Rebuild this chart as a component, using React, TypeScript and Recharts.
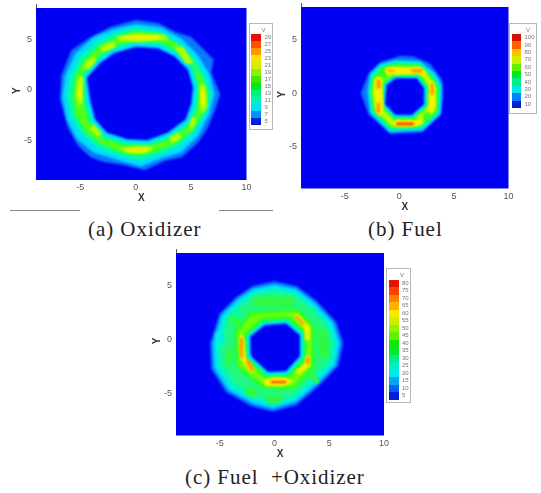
import { CartesianGrid, Scatter, ScatterChart, XAxis, YAxis } from 'recharts'

type Pt = [number, number]
type Layer = { color: string; points: Pt[] }

const X_TICKS = [-5, 0, 5, 10]
const Y_TICKS = [-5, 0, 5]

const BG = '#0000f2'
const C_EDGE = '#0a78ff'
const C_CYAN = '#00dcff'
const C_SEA = '#00ffa0'
const C_GREEN = '#30ff20'
const C_LIME = '#b8ff00'
const C_YELLOW = '#f8f000'
const C_ORANGE = '#ff9000'
const C_RED = '#ff3000'

// legend levels, top to bottom
const LEVELS_A = ['29', '27', '25', '23', '21', '19', '17', '15', '13', '11', '9', '7', '5']
const LEVELS_B = ['100', '90', '80', '70', '60', '50', '40', '30', '20', '10']
const LEVELS_C = ['80', '75', '70', '65', '60', '55', '50', '45', '40', '35', '30', '25', '20', '15', '10', '5']
const SWATCH_A = ['#e81000', '#ff5000', '#ff9800', '#ffe000', '#d0f000', '#90f000', '#40e800', '#00e820', '#00f080', '#00f0c0', '#00e0f0', '#0090ff', '#0020d8']
const SWATCH_B = ['#d81000', '#ff6000', '#ffc000', '#c8f000', '#60f000', '#00e820', '#00f090', '#00e8e0', '#0080ff', '#0020d0']
const SWATCH_C = ['#e81000', '#ff4000', '#ff8000', '#ffb000', '#ffe800', '#c8f000', '#98f000', '#60f000', '#10e800', '#00e830', '#00f080', '#00f0c0', '#00e8f0', '#00a8f0', '#0060ff', '#0020d8']

// (a) oxidizer contours
const A_OUTER: Pt[] = [[0, 6.8], [2, 6.5], [3.6, 5.6], [5, 5.1], [6.2, 3.8], [7, 2.9], [6.8, 1.6], [7.6, -0.5], [7.1, -2.2], [6.4, -4], [5.6, -5.3], [4.2, -6.7], [2.6, -7.1], [0.8, -8], [-1.1, -7.5], [-2.9, -7.2], [-4.1, -6.7], [-5.2, -5.6], [-6.1, -3.8], [-6.8, -1.1], [-6.7, 1.3], [-5.8, 3.8], [-4.2, 5], [-2.3, 6.1]]
const A_CYAN: Pt[] = [[0, 6.4], [2.3, 6.05], [4.1, 4.95], [5.6, 3.35], [6.65, 1.45], [7.1, -0.5], [6.65, -2.4], [5.6, -4.65], [4.1, -6.25], [2.3, -6.85], [0.45, -7.65], [-1.65, -7], [-3.8, -6.25], [-5.3, -4.95], [-6.2, -3.05], [-6.6, -0.8], [-6.35, 1.3], [-5.45, 3.5], [-3.8, 5.1], [-2, 5.9]]
const A_SEA: Pt[] = [[0, 6.05], [2.1, 5.65], [3.8, 4.65], [5.3, 3.05], [6.25, 1.3], [6.8, -0.5], [6.35, -2.4], [5.3, -4.3], [3.8, -5.75], [2, -6.55], [0.3, -7.05], [-1.65, -6.55], [-3.5, -5.75], [-4.85, -4.45], [-5.75, -2.9], [-6.2, -0.8], [-5.95, 1.1], [-5, 3.2], [-3.5, 4.65], [-1.8, 5.55]]
const A_GREEN: Pt[] = [[0, 5.65], [2, 5.45], [3.65, 4.45], [5, 2.9], [5.9, 1.3], [6.5, -0.5], [6.05, -2.4], [5, -4.15], [3.5, -5.45], [1.8, -6.15], [0.15, -6.55], [-1.65, -6.15], [-3.35, -5.25], [-4.55, -4.15], [-5.35, -2.7], [-5.65, -0.8], [-5.45, 1.1], [-4.7, 2.7], [-3.35, 4.15], [-1.65, 5.1]]
const A_HOLE_SEA: Pt[] = [[0, 4.8], [2.2, 4.65], [4, 3.65], [5.25, 2.25], [5.75, 0.2], [5.6, -1.75], [5.05, -3.4], [3.3, -4.85], [1.15, -5.65], [-0.85, -5.55], [-3, -4.85], [-4.15, -3.35], [-4.7, -1.3], [-4.75, 1.5], [-3.6, 3], [-2.25, 4.15]]
const A_HOLE_CYAN: Pt[] = [[0, 4.5], [2.1, 4.35], [3.8, 3.4], [5, 2.1], [5.45, 0.2], [5.3, -1.6], [4.8, -3.2], [3.1, -4.6], [1.1, -5.35], [-0.8, -5.25], [-2.8, -4.6], [-3.9, -3.2], [-4.4, -1.2], [-4.6, 1.3], [-3.4, 2.8], [-2.1, 3.85]]
const A_HOLE: Pt[] = [[0, 4.15], [2, 4], [3.5, 3.2], [4.7, 1.9], [5.15, 0.15], [5, -1.45], [4.5, -3], [2.9, -4.3], [1.05, -5.05], [-0.75, -4.95], [-2.6, -4.3], [-3.65, -3], [-4.1, -1.1], [-4.4, 1.1], [-3.2, 2.55], [-2, 3.5]]
const A_HOT_TOP: Pt[] = [[-1.65, 5.2], [-0.15, 5.45], [2.6, 5.35], [2.9, 4.95], [0.45, 4.65], [-1.5, 4.8]]
const A_HOT_UL: Pt[] = [[-3.2, 4.15], [-2, 4.7], [-1.8, 4.15], [-2.9, 3.65]]
const A_HOT_UL2: Pt[] = [[-4.7, 2.25], [-3.95, 3.2], [-3.5, 2.9], [-4.25, 1.9]]
const A_HOT_UR: Pt[] = [[3.5, 4.15], [4.25, 4.15], [5.15, 2.55], [4.55, 2.55]]
const A_HOT_R: Pt[] = [[5.8, 0.5], [6.25, 0.3], [6.45, -1.75], [6.05, -2.4], [5.75, -1.45]]
const A_HOT_L: Pt[] = [[-5.15, 1.3], [-4.75, 1.1], [-4.85, -1.45], [-5.15, -1.6], [-5.35, -0.5]]
const A_HOT_LR: Pt[] = [[4.85, -3.5], [5.15, -2.7], [5.45, -3.2], [5, -4.15]]
const A_HOT_BR: Pt[] = [[3.05, -4.8], [3.8, -4.3], [4.1, -4.8], [3.35, -5.35]]
const A_HOT_B: Pt[] = [[-1.35, -5.9], [0.15, -5.65], [1.65, -5.75], [1.05, -6.3], [-0.75, -6.3]]
const A_HOT_LL: Pt[] = [[-4.15, -3.85], [-3.8, -3.5], [-3.05, -4.45], [-3.5, -4.65]]
const A_CORE_TOP: Pt[] = [[-0.9, 5.2], [2, 5.2], [2, 4.95], [-0.9, 5]]
const A_CORE_R: Pt[] = [[5.95, -0.2], [6.15, -0.2], [6.2, -1.5], [6, -1.5]]
const A_CORE_L: Pt[] = [[-5.15, 0.1], [-4.9, 0.1], [-4.95, -1], [-5.15, -1]]
const A_CORE_B: Pt[] = [[-0.8, -6], [1, -5.95], [0.9, -6.2], [-0.7, -6.2]]

// (b) fuel contours
const B_OUTER: Pt[] = [[0.1, 3.4], [1.3, 3.35], [2.85, 2.65], [3.9, 1.15], [4, -0.5], [3.75, -2.1], [2.1, -3.7], [-0.85, -3.85], [-2.8, -2.05], [-3.5, -0.05], [-2.8, 1.75], [-1.75, 2.8]]
const B_CYAN: Pt[] = [[-1.75, 2.65], [-0.35, 3], [1.9, 2.9], [3.3, 1.75], [3.85, 0.7], [3.75, -2], [2.1, -3.55], [-0.85, -3.7], [-2.65, -1.9], [-2.9, 0.1], [-2.65, 1.75]]
const B_SEA: Pt[] = [[-1.6, 2.5], [-0.35, 2.85], [1.9, 2.75], [3.1, 1.6], [3.7, 0.6], [3.6, -1.9], [2, -3.35], [-0.8, -3.5], [-2.5, -1.8], [-2.75, 0.1], [-2.5, 1.6]]
const B_GREEN: Pt[] = [[-1.45, 2.35], [-0.3, 2.65], [1.8, 2.55], [2.95, 1.45], [3.5, 0.5], [3.45, -1.8], [1.9, -3.15], [-0.75, -3.3], [-2.35, -1.7], [-2.6, 0.1], [-2.35, 1.5]]
const B_LIME: Pt[] = [[-1.2, 2.3], [1.9, 2.4], [2.8, 1.4], [3.35, 0.5], [3.3, -1.7], [1.8, -3], [-0.7, -3.15], [-2.2, -1.6], [-2.45, 0.1], [-2.2, 1.4], [-1.5, 1.4]]
const B_HOLE_GREEN: Pt[] = [[-0.5, 1.75], [1.8, 1.75], [2.7, 0.55], [2.7, -1.25], [1.3, -2.55], [-0.5, -2.55], [-1.75, -1.25], [-1.6, 0.85]]
const B_HOLE_SEA: Pt[] = [[-0.45, 1.6], [1.7, 1.6], [2.55, 0.5], [2.55, -1.2], [1.25, -2.4], [-0.45, -2.4], [-1.6, -1.2], [-1.45, 0.8]]
const B_HOLE_CYAN: Pt[] = [[-0.4, 1.45], [1.65, 1.45], [2.4, 0.45], [2.4, -1.15], [1.2, -2.25], [-0.4, -2.25], [-1.45, -1.15], [-1.3, 0.75]]
const B_HOLE: Pt[] = [[-0.35, 1.3], [1.6, 1.3], [2.25, 0.4], [2.25, -1.1], [1.15, -2.1], [-0.35, -2.1], [-1.3, -1.1], [-1.15, 0.7]]
const B_HOT_TOP: Pt[] = [[-1.3, 2.2], [-0.65, 2.35], [2.1, 2.25], [2.55, 1.75], [2.1, 1.75], [-0.5, 1.65], [-1.2, 1.85]]
const B_HOT_L: Pt[] = [[-2.25, 1.15], [-1.9, 1.45], [-1.6, 1.15], [-1.45, -1.4], [-1.75, -2.2], [-2.1, -1.9]]
const B_HOT_R: Pt[] = [[2.8, 1.15], [3.15, 1], [3.3, -1.1], [3, -1.9], [2.7, -1.6]]
const B_HOT_B: Pt[] = [[-0.5, -2.65], [1.95, -2.6], [2.25, -2.9], [1.3, -3.2], [-0.35, -3.2]]
const B_CORE_T1: Pt[] = [[-1.05, 2.1], [-0.55, 2.1], [-0.55, 1.95], [-1.05, 1.95]]
const B_CORE_T2: Pt[] = [[1.15, 2.15], [2.1, 2.15], [2.1, 1.9], [1.15, 1.9]]
const B_CORE_L1: Pt[] = [[-2.05, 1.15], [-1.75, 1.15], [-1.75, 0.4], [-2.05, 0.4]]
const B_CORE_L2: Pt[] = [[-2.05, -1], [-1.8, -1], [-1.8, -1.9], [-2.05, -1.9]]
const B_CORE_R: Pt[] = [[2.9, 0.85], [3.1, 0.85], [3.1, -0.2], [2.9, -0.2]]
const B_CORE_B: Pt[] = [[-0.25, -2.85], [1.3, -2.85], [1.3, -3.05], [-0.25, -3.05]]
const B_GAP_LR: Pt[] = [[2.2, -2.0], [2.8, -1.8], [2.7, -2.5], [2.2, -2.7]]
const B_GAP_UL: Pt[] = [[-1.75, 2.05], [-1.35, 2.15], [-1.05, 1.3], [-1.4, 1.15]]

// (c) fuel + oxidizer contours
const C_OUTER: Pt[] = [[0, 5.35], [2, 4.9], [3.8, 3.55], [5.6, 1.6], [6.25, -0.4], [5.8, -2.5], [4.1, -4.3], [2, -6.15], [-0.15, -6.75], [-2, -6.3], [-4.4, -4.95], [-5.75, -2.8], [-5.85, -0.4], [-5, 2.35], [-3.5, 3.85], [-2, 4.9]]
const C_CYAN_RING: Pt[] = [[0, 5.05], [1.95, 4.65], [3.65, 3.35], [5.35, 1.5], [5.95, -0.4], [5.55, -2.4], [3.95, -4.1], [1.95, -5.85], [-0.15, -6.45], [-1.95, -6], [-4.2, -4.75], [-5.5, -2.7], [-5.6, -0.4], [-4.8, 2.25], [-3.35, 3.7], [-1.95, 4.65]]
const C_SEA_RING: Pt[] = [[0, 4.75], [1.85, 4.4], [3.45, 3.15], [5.1, 1.4], [5.65, -0.4], [5.3, -2.3], [3.75, -3.9], [1.85, -5.55], [-0.15, -6.15], [-1.85, -5.7], [-3.95, -4.5], [-5.2, -2.55], [-5.3, -0.4], [-4.55, 2.1], [-3.15, 3.5], [-1.85, 4.4]]
const C_GREEN_RING: Pt[] = [[0, 4.4], [1.7, 4.1], [3.2, 2.9], [4.75, 1.25], [5.25, -0.4], [4.9, -2.1], [3.5, -3.6], [1.7, -5.2], [-0.15, -5.8], [-1.7, -5.35], [-3.6, -4.2], [-4.8, -2.4], [-4.9, -0.4], [-4.2, 1.85], [-2.9, 3.2], [-1.7, 4.1]]
const C_MID_GREEN: Pt[] = [[-2.2, 2.55], [2.15, 2.8], [3.65, 1.2], [3.65, -2.7], [1.85, -4.65], [-1, -4.65], [-3.45, -2.7], [-3.6, 0.75]]
const C_MID_LIME: Pt[] = [[-2, 2.25], [2, 2.5], [3.35, 1.1], [3.35, -2.5], [1.7, -4.35], [-0.9, -4.35], [-3.2, -2.5], [-3.35, 0.65]]
const C_HOLE_GREEN: Pt[] = [[-1.15, 1.95], [1.35, 2.1], [2.95, 0.65], [2.95, -1.9], [1.35, -3.65], [-0.8, -3.7], [-2.8, -1.85], [-2.85, 0.45]]
const C_HOLE_SEA: Pt[] = [[-1.05, 1.65], [1.2, 1.8], [2.7, 0.5], [2.7, -1.75], [1.2, -3.4], [-0.7, -3.45], [-2.55, -1.75], [-2.6, 0.3]]
const C_HOLE_CYAN: Pt[] = [[-1, 1.45], [1.1, 1.6], [2.5, 0.45], [2.5, -1.7], [1.1, -3.2], [-0.65, -3.25], [-2.35, -1.7], [-2.4, 0.25]]
const C_HOLE: Pt[] = [[-0.9, 1.25], [1.05, 1.4], [2.3, 0.35], [2.3, -1.6], [1.05, -3], [-0.6, -3.05], [-2.15, -1.6], [-2.2, 0.2]]
const C_HOT_L: Pt[] = [[-3.2, 0.05], [-3, 0.45], [-2.75, -0.1], [-2.65, -1.75], [-1.85, -2.8], [-2.15, -3.15], [-3.05, -1.9]]
const C_HOT_TR: Pt[] = [[1.7, 2.25], [2.15, 2.25], [3.2, 1.1], [3.2, -0.1], [2.8, -0.1], [2.75, 1]]
const C_HOT_R: Pt[] = [[2.85, -1.6], [3.2, -1.6], [3.2, -2.5], [2.3, -3.25], [1.85, -3.1], [2.75, -2.35]]
const C_HOT_B: Pt[] = [[-1.05, -3.9], [-0.15, -3.6], [1.05, -3.65], [1.7, -4], [0.75, -4.4], [-0.75, -4.35]]
const C_CORE_L1: Pt[] = [[-3.15, 0.05], [-2.9, 0.05], [-2.9, -1.75], [-3.1, -1.75]]
const C_CORE_L2: Pt[] = [[-2.6, -2.05], [-2.35, -1.95], [-1.9, -2.8], [-2.1, -3.05]]
const C_CORE_TR: Pt[] = [[1.85, 2.1], [2.05, 2.15], [2.75, 1.35], [2.6, 1.3]]
const C_CORE_R: Pt[] = [[2.9, -1.75], [3.15, -1.75], [3.15, -2.35], [2.9, -2.35]]
const C_CORE_B: Pt[] = [[-0.3, -3.95], [1.05, -3.95], [1.05, -4.1], [-0.3, -4.1]]
const C_DIAG_LR: Pt[] = [[3.05, -2.95], [3.35, -2.95], [4.1, -4], [3.8, -4.2]]
const C_DIAG_UL: Pt[] = [[-4.05, 2], [-3.8, 2.2], [-2.9, 1.1], [-3.2, 0.9]]
const C_PATCH_UL: Pt[] = [[-3.7, 2.65], [-3.2, 2.65], [-3.05, 2.2], [-3.5, 1.9]]
const C_PATCH_L: Pt[] = [[-5.4, 0.5], [-4.7, 0.8], [-4.55, -0.4], [-5.25, -0.55]]
const C_BLOB_T: Pt[] = [[-2, 3.9], [1.8, 3.8], [1.6, 3], [-1.8, 3.1]]
const C_BLOB_R: Pt[] = [[3.9, 1.2], [4.8, 0.6], [5, -1.5], [4.1, -1.8]]
const C_BLOB_B: Pt[] = [[-0.7, -5.3], [0.7, -5.4], [0.6, -6], [-0.6, -6]]
const C_BLOB_BL: Pt[] = [[-2.6, -4.6], [-1.6, -4.6], [-1.8, -5.5], [-2.6, -5.2]]
const C_BLOB_L: Pt[] = [[-4.4, -1], [-3.7, -0.8], [-3.8, -2.4], [-4.4, -2.2]]

// painted back to front
const LAYERS_A: Layer[] = [
  { color: C_EDGE, points: A_OUTER }, { color: C_CYAN, points: A_CYAN }, { color: C_SEA, points: A_SEA }, { color: '#50ff18', points: A_GREEN },
  { color: C_SEA, points: A_HOLE_SEA }, { color: C_CYAN, points: A_HOLE_CYAN }, { color: BG, points: A_HOLE },
  ...[A_HOT_TOP, A_HOT_UL, A_HOT_UL2, A_HOT_UR, A_HOT_R, A_HOT_L, A_HOT_LR, A_HOT_BR, A_HOT_B, A_HOT_LL].map((points) => ({ color: C_LIME, points })),
  ...[A_CORE_TOP, A_CORE_R, A_CORE_L, A_CORE_B].map((points) => ({ color: C_YELLOW, points })),
]
const LAYERS_B: Layer[] = [
  { color: C_EDGE, points: B_OUTER }, { color: C_CYAN, points: B_CYAN }, { color: C_SEA, points: B_SEA }, { color: C_GREEN, points: B_GREEN }, { color: C_LIME, points: B_LIME },
  { color: C_GREEN, points: B_HOLE_GREEN }, { color: C_SEA, points: B_HOLE_SEA }, { color: C_CYAN, points: B_HOLE_CYAN }, { color: BG, points: B_HOLE },
  ...[B_GAP_LR, B_GAP_UL].map((points) => ({ color: C_GREEN, points })),
  ...[B_HOT_TOP, B_HOT_L, B_HOT_R, B_HOT_B].map((points) => ({ color: C_YELLOW, points })),
  ...[B_CORE_T1, B_CORE_T2, B_CORE_L1, B_CORE_L2, B_CORE_R].map((points) => ({ color: C_ORANGE, points })),
  { color: C_RED, points: B_CORE_B },
]
const LAYERS_C: Layer[] = [
  { color: C_EDGE, points: C_OUTER }, { color: C_CYAN, points: C_CYAN_RING }, { color: '#00f8c0', points: C_SEA_RING }, { color: '#20f880', points: C_GREEN_RING },
  ...[C_BLOB_T, C_BLOB_R, C_BLOB_B, C_BLOB_BL, C_BLOB_L].map((points) => ({ color: '#30f840', points })),
  { color: C_GREEN, points: C_MID_GREEN }, { color: '#70ff10', points: C_MID_LIME },
  { color: C_GREEN, points: C_HOLE_GREEN }, { color: C_SEA, points: C_HOLE_SEA }, { color: C_CYAN, points: C_HOLE_CYAN }, { color: BG, points: C_HOLE },
  { color: C_SEA, points: C_PATCH_UL }, { color: '#00f0e0', points: C_PATCH_L }, { color: C_GREEN, points: C_DIAG_LR }, { color: C_GREEN, points: C_DIAG_UL },
  ...[C_HOT_L, C_HOT_TR, C_HOT_R, C_HOT_B].map((points) => ({ color: C_YELLOW, points })),
  ...[C_CORE_L1, C_CORE_L2, C_CORE_TR, C_CORE_R].map((points) => ({ color: C_ORANGE, points })),
  { color: C_RED, points: C_CORE_B },
]

const TEXT_BLUR = 'blur(0.35px)'
const AXIS_TICK = { fontSize: 9, fill: '#555', fontFamily: 'Liberation Sans' }
const AXIS_LABEL = { fontSize: 10, fontWeight: 700, fill: '#333', fontFamily: 'Liberation Sans' }

function ContourPlot ({ layers, left, top, width, height }: { layers: Layer[]; left: number; top: number; width: number; height: number }) {
  // plot area sits at left/top, the axes get 24px around it
  return (
    <div style={{ position: 'absolute', left: left - 24, top: top - 4, filter: TEXT_BLUR }}>
      <ScatterChart width={width + 40} height={height + 28} margin={{ top: 4, right: 16, bottom: 4, left: 0 }}>
        <CartesianGrid horizontal={false} vertical={false} fill={BG} />
        <XAxis
          type="number"
          dataKey="x"
          domain={[-9, 10]}
          ticks={X_TICKS}
          height={24}
          axisLine={false}
          tickLine={false}
          tickMargin={-2}
          tick={AXIS_TICK}
          label={{ value: 'X', position: 'insideBottom', offset: 3, style: AXIS_LABEL }}
        />
        <YAxis
          type="number"
          dataKey="y"
          domain={[-9, 8]}
          ticks={Y_TICKS}
          width={24}
          axisLine={false}
          tickLine={false}
          tickMargin={-2}
          tick={AXIS_TICK}
          label={{ value: 'Y', angle: -90, position: 'insideLeft', offset: 4, style: AXIS_LABEL }}
        />
        {layers.map((layer, i) => (
          <Scatter
            key={i}
            data={layer.points.map(([x, y]) => ({ x, y }))}
            line={{ fill: layer.color, stroke: layer.color, strokeWidth: 0.5, style: { filter: 'blur(0.8px)' } }}
            lineJointType="linearClosed"
            shape={() => <g />}
            isAnimationActive={false}
          />
        ))}
      </ScatterChart>
      <div style={{ position: 'absolute', left: 24, top: 0, width: 1, height: 4, background: '#555' }} />
    </div>
  )
}

function LevelLegend ({ levels, colors, left, top, width, height, barTop, barHeight, barWidth }: {
  levels: string[]; colors: string[]; left: number; top: number; width: number; height: number; barTop: number; barHeight: number; barWidth: number
}) {
  const step = barHeight / levels.length
  return (
    <div style={{ position: 'absolute', left, top, width, height, border: '1px solid #b8b8b8', boxSizing: 'border-box', background: '#fff', filter: TEXT_BLUR, fontFamily: 'Liberation Sans', fontSize: 6, color: '#777' }}>
      <div style={{ position: 'absolute', right: 6, top: 3 }}>V</div>
      {levels.map((level, i) => (
        <div key={level}>
          <div style={{ position: 'absolute', left: 1.5, top: barTop + i * step, width: barWidth, height: step, background: colors[i] }} />
          <div style={{ position: 'absolute', left: barWidth + 5, top: barTop + i * step + step / 2 - 3.5, lineHeight: '7px' }}>{level}</div>
        </div>
      ))}
    </div>
  )
}

function Caption ({ text, x, y }: { text: string; x: number; y: number }) {
  return (
    <div style={{ position: 'absolute', left: x, top: y, fontFamily: 'Liberation Serif', fontSize: 21, letterSpacing: 0.95, lineHeight: '22px', whiteSpace: 'pre', color: '#222' }}>
      {text}
    </div>
  )
}

export default function App () {
  return (
    <div style={{ position: 'absolute', left: 0, top: 0, width: 541, height: 493, background: '#fff', overflow: 'hidden' }}>
      <ContourPlot layers={LAYERS_A} left={35.5} top={8} width={210.5} height={176} />
      <ContourPlot layers={LAYERS_B} left={301} top={7} width={207.5} height={185.5} />
      <ContourPlot layers={LAYERS_C} left={176} top={253} width={208} height={186.5} />
      <LevelLegend levels={LEVELS_A} colors={SWATCH_A} left={248.5} top={23} width={24} height={107} barTop={10} barHeight={91} barWidth={10} />
      <LevelLegend levels={LEVELS_B} colors={SWATCH_B} left={509} top={22.5} width={28} height={91} barTop={10.5} barHeight={74} barWidth={9.5} />
      <LevelLegend levels={LEVELS_C} colors={SWATCH_C} left={386} top={268} width={25} height={135} barTop={10.5} barHeight={120} barWidth={10} />
      <div style={{ position: 'absolute', left: 10, top: 210, width: 70, height: 1, background: '#888' }} />
      <div style={{ position: 'absolute', left: 219, top: 210, width: 54, height: 1, background: '#888' }} />
      <Caption text="(a) Oxidizer" x={88} y={218} />
      <Caption text="(b) Fuel" x={368} y={218} />
      <Caption text="(c) Fuel  +Oxidizer" x={185} y={466} />
    </div>
  )
}
